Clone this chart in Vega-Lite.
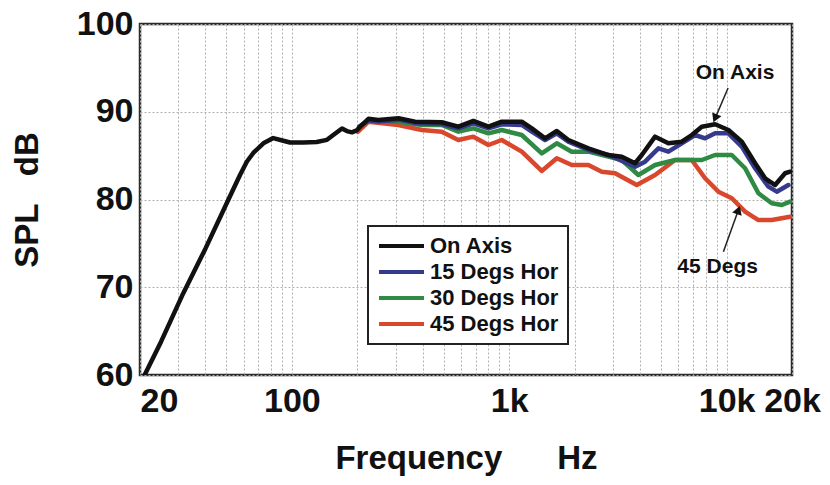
{
  "$schema": "https://vega.github.io/schema/vega-lite/v6.json",
  "width": 652,
  "height": 351,
  "autosize": {"type": "none"},
  "padding": {"left": 140, "top": 24, "right": 38, "bottom": 110},
  "background": "white",
  "config": {
    "view": {"stroke": "#2a2a2a", "strokeWidth": 2.5},
    "axis": {
      "labelFont": "Liberation Sans",
      "labelFontSize": 34,
      "labelFontWeight": "bold",
      "labelColor": "#111",
      "titleFont": "Liberation Sans",
      "titleFontSize": 33,
      "titleFontWeight": "bold",
      "titleColor": "#111",
      "domain": false,
      "ticks": false,
      "grid": true,
      "gridColor": "#b0b0b0",
      "gridDash": [2, 2],
      "gridWidth": 1
    }
  },
  "datasets": {
    "curves": [
      {"s": "45 Degs Hor", "f": 201, "db": 87.7},
      {"s": "45 Degs Hor", "f": 225, "db": 88.87},
      {"s": "45 Degs Hor", "f": 309, "db": 88.49},
      {"s": "45 Degs Hor", "f": 396, "db": 87.92},
      {"s": "45 Degs Hor", "f": 489, "db": 87.73},
      {"s": "45 Degs Hor", "f": 583, "db": 86.78},
      {"s": "45 Degs Hor", "f": 684, "db": 87.16},
      {"s": "45 Degs Hor", "f": 802, "db": 86.21},
      {"s": "45 Degs Hor", "f": 924, "db": 86.78},
      {"s": "45 Degs Hor", "f": 1142, "db": 85.45},
      {"s": "45 Degs Hor", "f": 1411, "db": 83.25},
      {"s": "45 Degs Hor", "f": 1655, "db": 84.7},
      {"s": "45 Degs Hor", "f": 1939, "db": 83.93},
      {"s": "45 Degs Hor", "f": 2312, "db": 83.93},
      {"s": "45 Degs Hor", "f": 2666, "db": 83.17},
      {"s": "45 Degs Hor", "f": 3070, "db": 82.99},
      {"s": "45 Degs Hor", "f": 3862, "db": 81.65},
      {"s": "45 Degs Hor", "f": 4688, "db": 82.79},
      {"s": "45 Degs Hor", "f": 5794, "db": 84.5},
      {"s": "45 Degs Hor", "f": 6916, "db": 84.5},
      {"s": "45 Degs Hor", "f": 7964, "db": 82.42},
      {"s": "45 Degs Hor", "f": 9171, "db": 80.89},
      {"s": "45 Degs Hor", "f": 10568, "db": 80.14},
      {"s": "45 Degs Hor", "f": 12168, "db": 78.61},
      {"s": "45 Degs Hor", "f": 14012, "db": 77.66},
      {"s": "45 Degs Hor", "f": 16150, "db": 77.66},
      {"s": "45 Degs Hor", "f": 19604, "db": 78.04},

      {"s": "30 Degs Hor", "f": 204, "db": 88.2},
      {"s": "30 Degs Hor", "f": 225, "db": 89.06},
      {"s": "30 Degs Hor", "f": 309, "db": 88.87},
      {"s": "30 Degs Hor", "f": 396, "db": 88.49},
      {"s": "30 Degs Hor", "f": 489, "db": 88.49},
      {"s": "30 Degs Hor", "f": 583, "db": 87.73},
      {"s": "30 Degs Hor", "f": 684, "db": 88.11},
      {"s": "30 Degs Hor", "f": 802, "db": 87.54},
      {"s": "30 Degs Hor", "f": 924, "db": 87.92},
      {"s": "30 Degs Hor", "f": 1142, "db": 87.35},
      {"s": "30 Degs Hor", "f": 1411, "db": 85.26},
      {"s": "30 Degs Hor", "f": 1655, "db": 86.4},
      {"s": "30 Degs Hor", "f": 1939, "db": 85.45},
      {"s": "30 Degs Hor", "f": 2312, "db": 85.45},
      {"s": "30 Degs Hor", "f": 2858, "db": 84.88},
      {"s": "30 Degs Hor", "f": 3296, "db": 84.5},
      {"s": "30 Degs Hor", "f": 3929, "db": 82.79},
      {"s": "30 Degs Hor", "f": 4688, "db": 83.93},
      {"s": "30 Degs Hor", "f": 5794, "db": 84.5},
      {"s": "30 Degs Hor", "f": 7690, "db": 84.5},
      {"s": "30 Degs Hor", "f": 8856, "db": 85.07},
      {"s": "30 Degs Hor", "f": 10568, "db": 85.07},
      {"s": "30 Degs Hor", "f": 12168, "db": 83.56},
      {"s": "30 Degs Hor", "f": 14012, "db": 80.71},
      {"s": "30 Degs Hor", "f": 16150, "db": 79.57},
      {"s": "30 Degs Hor", "f": 17952, "db": 79.37},
      {"s": "30 Degs Hor", "f": 19604, "db": 79.75},

      {"s": "15 Degs Hor", "f": 204, "db": 88.3},
      {"s": "15 Degs Hor", "f": 225, "db": 89.0},
      {"s": "15 Degs Hor", "f": 250, "db": 88.9},
      {"s": "15 Degs Hor", "f": 309, "db": 89.1},
      {"s": "15 Degs Hor", "f": 369, "db": 88.7},
      {"s": "15 Degs Hor", "f": 489, "db": 88.6},
      {"s": "15 Degs Hor", "f": 583, "db": 88.11},
      {"s": "15 Degs Hor", "f": 684, "db": 88.68},
      {"s": "15 Degs Hor", "f": 802, "db": 88.1},
      {"s": "15 Degs Hor", "f": 924, "db": 88.57},
      {"s": "15 Degs Hor", "f": 1142, "db": 88.49},
      {"s": "15 Degs Hor", "f": 1270, "db": 87.73},
      {"s": "15 Degs Hor", "f": 1462, "db": 86.78},
      {"s": "15 Degs Hor", "f": 1655, "db": 87.54},
      {"s": "15 Degs Hor", "f": 1871, "db": 86.59},
      {"s": "15 Degs Hor", "f": 2312, "db": 85.64},
      {"s": "15 Degs Hor", "f": 2858, "db": 85.07},
      {"s": "15 Degs Hor", "f": 3794, "db": 83.74},
      {"s": "15 Degs Hor", "f": 4217, "db": 84.31},
      {"s": "15 Degs Hor", "f": 4857, "db": 85.83},
      {"s": "15 Degs Hor", "f": 5398, "db": 85.45},
      {"s": "15 Degs Hor", "f": 6222, "db": 86.4},
      {"s": "15 Degs Hor", "f": 7164, "db": 87.35},
      {"s": "15 Degs Hor", "f": 7964, "db": 86.97},
      {"s": "15 Degs Hor", "f": 8856, "db": 87.54},
      {"s": "15 Degs Hor", "f": 10198, "db": 87.54},
      {"s": "15 Degs Hor", "f": 11750, "db": 86.02},
      {"s": "15 Degs Hor", "f": 13530, "db": 83.56},
      {"s": "15 Degs Hor", "f": 15576, "db": 81.46},
      {"s": "15 Degs Hor", "f": 17022, "db": 80.89},
      {"s": "15 Degs Hor", "f": 19250, "db": 81.65},

      {"s": "On Axis", "f": 21, "db": 60},
      {"s": "On Axis", "f": 25, "db": 63.8},
      {"s": "On Axis", "f": 31.6, "db": 69.3},
      {"s": "On Axis", "f": 40, "db": 74.4},
      {"s": "On Axis", "f": 51.5, "db": 80.2},
      {"s": "On Axis", "f": 57.7, "db": 82.8},
      {"s": "On Axis", "f": 62, "db": 84.3},
      {"s": "On Axis", "f": 66.4, "db": 85.3},
      {"s": "On Axis", "f": 73.9, "db": 86.4},
      {"s": "On Axis", "f": 82.1, "db": 87.0},
      {"s": "On Axis", "f": 91.3, "db": 86.7},
      {"s": "On Axis", "f": 98, "db": 86.5},
      {"s": "On Axis", "f": 113, "db": 86.5},
      {"s": "On Axis", "f": 130, "db": 86.55},
      {"s": "On Axis", "f": 145, "db": 86.8},
      {"s": "On Axis", "f": 155, "db": 87.35},
      {"s": "On Axis", "f": 170, "db": 88.1},
      {"s": "On Axis", "f": 179, "db": 87.8},
      {"s": "On Axis", "f": 189, "db": 87.65},
      {"s": "On Axis", "f": 199, "db": 87.9},
      {"s": "On Axis", "f": 206, "db": 88.3},
      {"s": "On Axis", "f": 225, "db": 89.2},
      {"s": "On Axis", "f": 250, "db": 89.06},
      {"s": "On Axis", "f": 309, "db": 89.25},
      {"s": "On Axis", "f": 369, "db": 88.87},
      {"s": "On Axis", "f": 489, "db": 88.8},
      {"s": "On Axis", "f": 583, "db": 88.3},
      {"s": "On Axis", "f": 684, "db": 88.95},
      {"s": "On Axis", "f": 802, "db": 88.3},
      {"s": "On Axis", "f": 924, "db": 88.87},
      {"s": "On Axis", "f": 1142, "db": 88.87},
      {"s": "On Axis", "f": 1270, "db": 88.11},
      {"s": "On Axis", "f": 1462, "db": 86.97},
      {"s": "On Axis", "f": 1655, "db": 87.81},
      {"s": "On Axis", "f": 1871, "db": 86.78},
      {"s": "On Axis", "f": 2312, "db": 85.83},
      {"s": "On Axis", "f": 2858, "db": 85.07},
      {"s": "On Axis", "f": 3296, "db": 84.88},
      {"s": "On Axis", "f": 3794, "db": 84.13},
      {"s": "On Axis", "f": 4072, "db": 85.07},
      {"s": "On Axis", "f": 4688, "db": 87.16},
      {"s": "On Axis", "f": 5398, "db": 86.4},
      {"s": "On Axis", "f": 6222, "db": 86.59},
      {"s": "On Axis", "f": 6916, "db": 87.35},
      {"s": "On Axis", "f": 7690, "db": 88.3},
      {"s": "On Axis", "f": 8856, "db": 88.57},
      {"s": "On Axis", "f": 10198, "db": 87.92},
      {"s": "On Axis", "f": 11750, "db": 86.59},
      {"s": "On Axis", "f": 13530, "db": 84.13},
      {"s": "On Axis", "f": 15040, "db": 82.42},
      {"s": "On Axis", "f": 16720, "db": 81.65},
      {"s": "On Axis", "f": 18588, "db": 82.99},
      {"s": "On Axis", "f": 19604, "db": 83.17}
    ],
    "notes": [
      {"label": "On Axis", "ft": 10940, "dbt": 94.4, "ftail": 10160, "dbtail": 92.7, "ftip": 8856, "dbtip": 89.25},
      {"label": "45 Degs", "ft": 9094, "dbt": 72.3, "ftail": 9670, "dbtail": 74.05, "ftip": 11334, "dbtip": 78.8}
    ]
  },
  "layer": [
    {
      "data": {"name": "curves"},
      "mark": {"type": "line", "strokeWidth": 4.5, "strokeJoin": "round", "strokeCap": "round", "clip": true},
      "encoding": {
        "x": {
          "field": "f", "type": "quantitative",
          "scale": {"type": "log", "domain": [20, 20000], "nice": false},
          "axis": {
            "values": [20, 30, 40, 50, 60, 70, 80, 90, 100, 200, 300, 400, 500, 600, 700, 800, 900, 1000, 2000, 3000, 4000, 5000, 6000, 7000, 8000, 9000, 10000, 20000],
            "labelExpr": "datum.value == 20 ? '20' : datum.value == 100 ? '100' : datum.value == 1000 ? '1k' : datum.value == 10000 ? '10k' : datum.value == 20000 ? '20k' : ''",
            "labelAlign": {"condition": {"test": "datum.value == 20", "value": "left"}, "value": "center"},
            "labelPadding": 9,
            "labelOverlap": false,
            "labelFlush": false,
            "title": "Frequency\u00a0\u00a0\u00a0\u00a0\u00a0\u00a0Hz",
            "titlePadding": 24
          }
        },
        "y": {
          "field": "db", "type": "quantitative",
          "scale": {"domain": [60, 100], "nice": false},
          "axis": {
            "values": [60, 70, 80, 90, 100],
            "labelPadding": 7,
            "labelFlush": false,
            "labelOverlap": false,
            "title": "SPL\u00a0\u00a0\u00a0dB",
            "titlePadding": 32
          }
        },
        "color": {
          "field": "s", "type": "nominal",
          "scale": {
            "domain": ["On Axis", "15 Degs Hor", "30 Degs Hor", "45 Degs Hor"],
            "range": ["#111111", "#363a8c", "#2f8a44", "#d9472c"]
          },
          "legend": {
            "orient": "none",
            "legendX": 228,
            "legendY": 202,
            "title": null,
            "strokeColor": "#222",
            "fillColor": "white",
            "padding": 9,
            "symbolType": "stroke",
            "symbolSize": 2025,
            "symbolStrokeWidth": 4,
            "clipHeight": 22,
            "labelFont": "Liberation Sans",
            "labelFontSize": 22,
            "labelFontWeight": "bold",
            "labelColor": "#111",
            "labelLimit": 300,
            "rowPadding": 4,
            "labelOffset": 4,
            "encode": {"legend": {"update": {"strokeWidth": {"value": 2}}}}
          }
        }
      }
    },
    {
      "data": {"name": "notes"},
      "mark": {"type": "rule", "color": "#222", "strokeWidth": 1.5},
      "encoding": {
        "x": {"field": "ftail", "type": "quantitative"},
        "y": {"field": "dbtail", "type": "quantitative"},
        "x2": {"field": "ftip"},
        "y2": {"field": "dbtip"}
      }
    },
    {
      "data": {"name": "notes"},
      "transform": [{"filter": "datum.label == 'On Axis'"}],
      "mark": {"type": "point", "shape": "triangle-up", "filled": true, "color": "#111", "size": 100, "angle": 203, "opacity": 1},
      "encoding": {
        "x": {"field": "ftip", "type": "quantitative"},
        "y": {"field": "dbtip", "type": "quantitative"}
      }
    },
    {
      "data": {"name": "notes"},
      "transform": [{"filter": "datum.label == '45 Degs'"}],
      "mark": {"type": "point", "shape": "triangle-up", "filled": true, "color": "#111", "size": 100, "angle": 20, "opacity": 1},
      "encoding": {
        "x": {"field": "ftip", "type": "quantitative"},
        "y": {"field": "dbtip", "type": "quantitative"}
      }
    },
    {
      "data": {"name": "notes"},
      "mark": {"type": "text", "font": "Liberation Sans", "fontSize": 21, "fontWeight": "bold", "color": "#111", "align": "center", "baseline": "middle"},
      "encoding": {
        "x": {"field": "ft", "type": "quantitative"},
        "y": {"field": "dbt", "type": "quantitative"},
        "text": {"field": "label"}
      }
    }
  ]
}
